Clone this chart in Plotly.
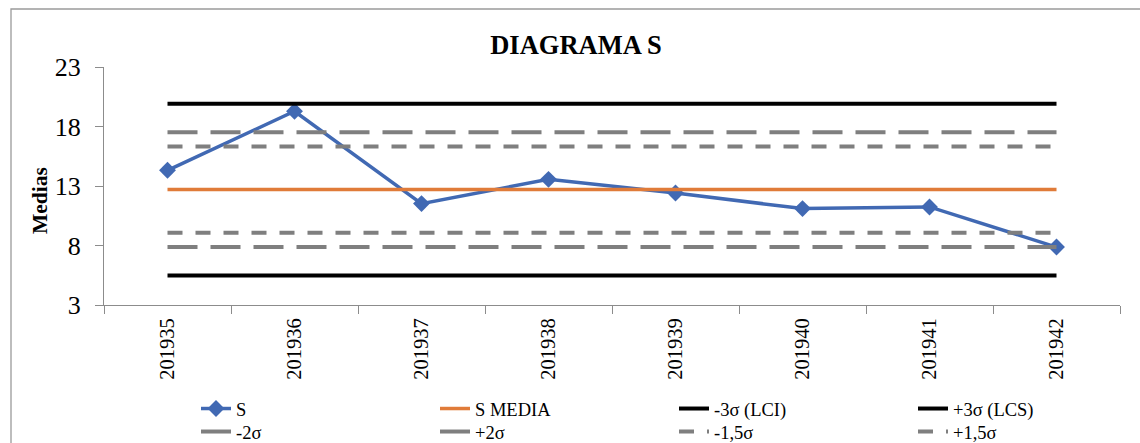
import plotly.graph_objects as go

# Weekly periods and the S statistic for each one
periods = ["201935", "201936", "201937", "201938", "201939", "201940", "201941", "201942"]
s_values = [14.32, 19.28, 11.52, 13.56, 12.41, 11.10, 11.24, 7.87]

# Control limits (constant across all periods)
s_media = 12.70
lci_3s = 5.47
lcs_3s = 19.92
minus_2s = 7.88
plus_2s = 17.52
minus_15s = 9.08
plus_15s = 16.32

FONT = "Liberation Serif"
GRAY = "#7f7f7f"

# Plot area geometry in pixels (used to place legends / frame in paper units)
W, H = 1140, 443
ML, MR, MT, MB = 104, 20, 67, 138
PW = W - ML - MR
PH = H - MT - MB


def px_x(p):
    return (p - ML) / PW


def px_y(p):
    return (H - MB - p) / PH


def flat(v):
    return [v] * len(periods)


fig = go.Figure()

fig.add_trace(go.Scatter(
    x=periods, y=s_values, name="S", mode="lines+markers",
    line=dict(color="#4169b3", width=3.5),
    marker=dict(symbol="diamond", size=13, color="#4169b3"),
    legend="legend",
))
fig.add_trace(go.Scatter(
    x=periods, y=flat(s_media), name="S MEDIA", mode="lines",
    line=dict(color="#e07b39", width=3.5), legend="legend",
))
fig.add_trace(go.Scatter(
    x=periods, y=flat(lci_3s), name="-3σ (LCI)", mode="lines",
    line=dict(color="#000000", width=4), legend="legend",
))
fig.add_trace(go.Scatter(
    x=periods, y=flat(lcs_3s), name="+3σ (LCS)", mode="lines",
    line=dict(color="#000000", width=4), legend="legend",
))
fig.add_trace(go.Scatter(
    x=periods, y=flat(minus_2s), name="-2σ", mode="lines",
    line=dict(color=GRAY, width=4, dash="30px,13px"), legend="legend2",
))
fig.add_trace(go.Scatter(
    x=periods, y=flat(plus_2s), name="+2σ", mode="lines",
    line=dict(color=GRAY, width=4, dash="30px,13px"), legend="legend2",
))
fig.add_trace(go.Scatter(
    x=periods, y=flat(minus_15s), name="-1,5σ", mode="lines",
    line=dict(color=GRAY, width=4, dash="15px,13px"), legend="legend2",
))
fig.add_trace(go.Scatter(
    x=periods, y=flat(plus_15s), name="+1,5σ", mode="lines",
    line=dict(color=GRAY, width=4, dash="15px,13px"), legend="legend2",
))

legend_font = dict(family=FONT, size=18.5, color="#000000")
legend_common = dict(
    orientation="h", xanchor="left", yanchor="top", x=px_x(196),
    font=legend_font, bgcolor="rgba(0,0,0,0)", tracegroupgap=0,
    itemwidth=30, entrywidth=194, entrywidthmode="pixels",
)

fig.update_layout(
    width=W, height=H,
    margin=dict(l=ML, r=MR, t=MT, b=MB, autoexpand=False),
    paper_bgcolor="white", plot_bgcolor="white",
    font=dict(family=FONT, color="#000000"),
    title=dict(
        text="<b>DIAGRAMA S</b>", x=576 / W, xanchor="center",
        y=1 - 45 / H, yanchor="middle", yref="container",
        font=dict(family=FONT, size=26.5, color="#000000"),
    ),
    xaxis=dict(
        type="category", showgrid=False, showline=True,
        linecolor="#8c8c8c", linewidth=1.3,
        ticks="outside", tickson="boundaries", ticklen=8,
        tickcolor="#8c8c8c", tickwidth=1.3, ticklabelstandoff=4,
        tickangle=-90, tickfont=dict(family=FONT, size=20.5, color="#000000"),
        range=[-0.5, len(periods) - 0.5], zeroline=False, automargin=False,
    ),
    yaxis=dict(
        range=[3, 23], tickvals=[3, 8, 13, 18, 23], showgrid=False,
        showline=True, linecolor="#8c8c8c", linewidth=1.3,
        ticks="outside", ticklen=8, tickcolor="#8c8c8c", tickwidth=1.3,
        ticklabelstandoff=9,
        tickfont=dict(family=FONT, size=26, color="#000000"),
        zeroline=False, automargin=False,
    ),
    annotations=[dict(
        text="<b>Medias</b>", textangle=-90, showarrow=False,
        xref="paper", yref="paper", x=px_x(40), y=px_y(201),
        xanchor="center", yanchor="middle",
        font=dict(family=FONT, size=21.5, color="#000000"),
    )],
    legend=dict(y=px_y(390), **legend_common),
    legend2=dict(y=px_y(413), **legend_common),
    shapes=[dict(
        type="rect", xref="paper", yref="paper",
        x0=px_x(11), x1=px_x(1160), y0=px_y(470), y1=px_y(9),
        line=dict(color="#9a9a9a", width=1.3), fillcolor="rgba(0,0,0,0)",
        layer="below",
    )],
)

fig.write_html("out.html")
